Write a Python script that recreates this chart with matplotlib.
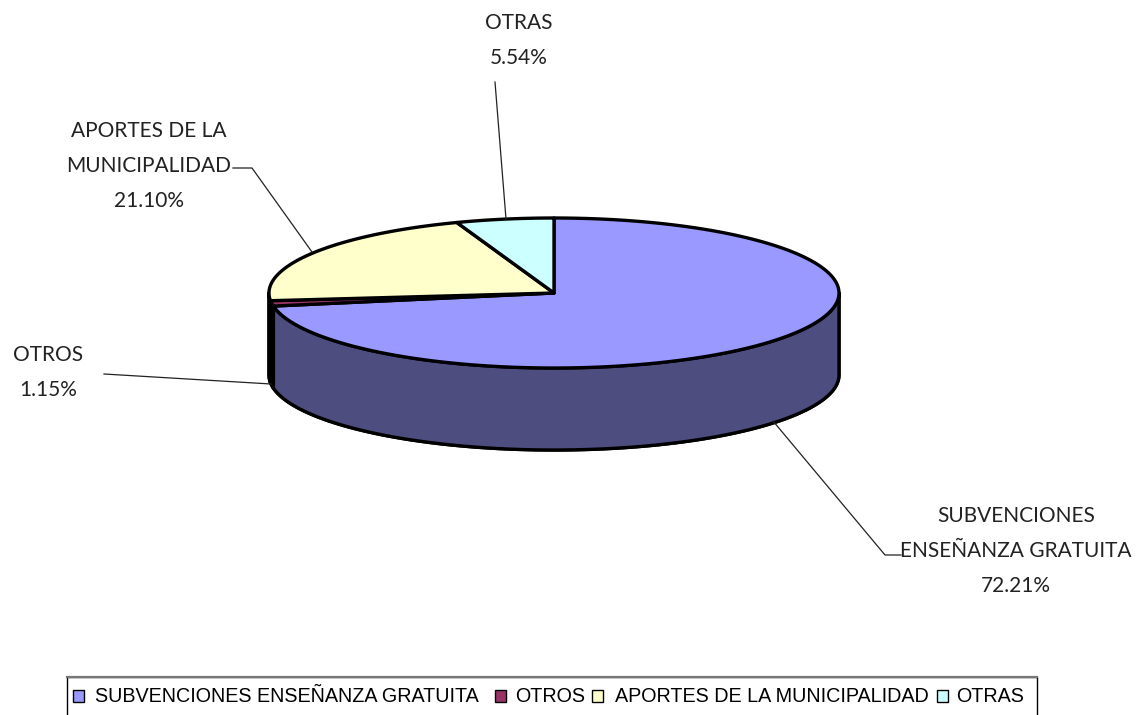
import matplotlib
matplotlib.use("Agg")
import matplotlib.pyplot as plt
import numpy as np
from matplotlib.patches import Polygon, Rectangle

categories = ["SUBVENCIONES ENSEÑANZA GRATUITA", "OTROS", "APORTES DE LA MUNICIPALIDAD", "OTRAS"]
values = [72.21, 1.15, 21.10, 5.54]
colors = ["#9999FF", "#993366", "#FFFFCC", "#CCFFFF"]
side_colors = ["#4D4D80", "#4D1A33", "#808066", "#668080"]

# etiquetas partidas en lineas como en el original
label_lines = [["SUBVENCIONES", "ENSEÑANZA GRATUITA"], ["OTROS"], ["APORTES DE LA", "MUNICIPALIDAD"], ["OTRAS"]]
label_pos = [(1016, 516), (48, 355), (149, 131), (519, 23)]
leaders = [
    [(773, 421), (885, 555), (901, 555)],
    [(104, 374), (271, 384)],
    [(233, 168), (252, 168), (312, 252)],
    [(495, 82), (506, 219)],
]
legend_swatch_x = [73, 495, 592, 937]
legend_text_x = [95, 515, 615, 956]

cx, cy, rx, ry, depth = 554, 293, 285, 75, 82
label_font = ["Lato", "DejaVu Sans"]

fig = plt.figure(figsize=(11.42, 7.15), dpi=100)
ax = fig.add_axes([0, 0, 1, 1])
ax.set_xlim(0, 1142)
ax.set_ylim(715, 0)
ax.axis("off")


def rim(a0, a1):
    t = np.radians(np.linspace(a0, a1, 200))
    return cx + rx * np.cos(t), cy - ry * np.sin(t)


def side(a0, a1, sc):
    x, y = rim(a0, a1)
    pts = np.r_[np.c_[x, y], np.c_[x[::-1], y[::-1] + depth]]
    ax.add_patch(Polygon(pts, fc=sc, ec="black", lw=2.4, joinstyle="round", zorder=2))


# angulos: parte de las 12 y gira en sentido horario
shares = np.array(values) / sum(values) * 360
ends = 90 - np.cumsum(shares)
starts = ends + shares

# cara lateral, solo la mitad de delante (180 a 360)
for a0, a1, sc in zip(starts, ends, side_colors):
    lo, hi = max(a1, -180), min(a0, 0)
    if hi > lo:
        side(hi, lo, sc)
    lo2, hi2 = max(a1 + 360, 180), min(a0 + 360, 360)
    if hi2 > lo2:
        side(hi2, lo2, sc)

# cara superior
for a0, a1, c in zip(starts, ends, colors):
    x, y = rim(a0, a1)
    pts = np.r_[[[cx, cy]], np.c_[x, y]]
    ax.add_patch(Polygon(pts, fc=c, ec="black", lw=2.4, joinstyle="round", zorder=3))

# lineas guia y etiquetas
for pts, lines, (lx, ly), v in zip(leaders, label_lines, label_pos, values):
    p = np.array(pts)
    ax.plot(p[:, 0], p[:, 1], color="#222222", lw=0.9, zorder=4)
    for i, s in enumerate(lines + [f"{v:.2f}%"]):
        ax.text(lx, ly + i * 35, s, ha="center", va="center", fontsize=15,
                family=label_font, color="#222222")

# leyenda, el marco queda cortado por abajo
ax.add_patch(Rectangle((66.5, 677), 970, 60, fc="white", ec="black", lw=1, zorder=1))
ax.plot([66.5, 1036.5], [677, 677], color="#777777", lw=1.6, zorder=2)
for name, c, sx, tx in zip(categories, colors, legend_swatch_x, legend_text_x):
    ax.add_patch(Rectangle((sx, 690), 11, 12, fc=c, ec="black", lw=1, zorder=3))
    ax.text(tx, 697, name, ha="left", va="center", fontsize=14.2,
            family=["Liberation Sans", "DejaVu Sans"], color="black")

fig.savefig("out.png", dpi=100)
